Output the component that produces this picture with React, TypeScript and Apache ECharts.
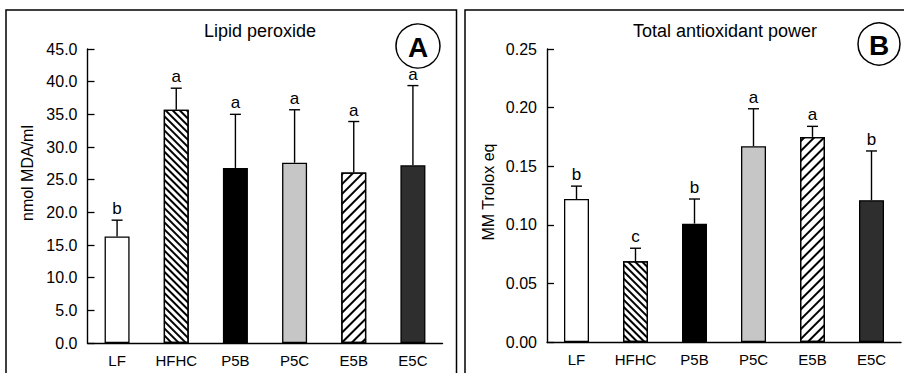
import React, { useEffect, useRef } from 'react';
import * as echarts from 'echarts';

const categories = ['LF', 'HFHC', 'P5B', 'P5C', 'E5B', 'E5C'];

const lipidMeans = [16.3, 35.7, 26.8, 27.6, 26.1, 27.2];
const lipidSD = [2.5, 3.3, 8.2, 8.1, 7.8, 12.2];
const lipidLetters = ['b', 'a', 'a', 'a', 'a', 'a'];

const taMeans = [0.122, 0.069, 0.101, 0.167, 0.175, 0.121];
const taSD = [0.011, 0.011, 0.021, 0.032, 0.009, 0.042];
const taLetters = ['b', 'c', 'b', 'a', 'a', 'b'];

const lipidAxis = { min: 0, max: 45, interval: 5, digits: 1 };
const taAxis = { min: 0, max: 0.25, interval: 0.05, digits: 2 };

const FONT = '"Liberation Sans", Arial, sans-serif';

const barStyles: any[] = [
  { color: '#ffffff' },
  {
    color: '#ffffff',
    decal: {
      symbol: 'rect', symbolSize: 1, color: '#000',
      dashArrayX: [1, 0], dashArrayY: [2, 3], rotation: Math.PI / 4,
    },
  },
  { color: '#000000' },
  { color: '#c6c6c6' },
  {
    color: '#ffffff',
    decal: {
      symbol: 'rect', symbolSize: 1, color: '#000',
      dashArrayX: [1, 0], dashArrayY: [1.6, 4.8], rotation: -Math.PI / 4,
    },
  },
  { color: '#2e2e2e' },
];

function barSeries(idx: number, means: number[]) {
  return {
    type: 'bar',
    xAxisIndex: idx,
    yAxisIndex: idx,
    barWidth: 25,
    data: means.map((v, i) => ({
      value: v,
      itemStyle: { borderColor: '#000', borderWidth: 1.3, ...barStyles[i] },
    })),
    z: 2,
  };
}

function errorSeries(idx: number, means: number[], sds: number[], letters: string[]) {
  return {
    type: 'custom',
    xAxisIndex: idx,
    yAxisIndex: idx,
    z: 5,
    data: means.map((m, i) => [i, m, m + sds[i]]),
    renderItem: (params: any, api: any) => {
      const i = api.value(0);
      const base = api.coord([i, api.value(1)]);
      const top = api.coord([i, api.value(2)]);
      return {
        type: 'group',
        children: [
          { type: 'line', shape: { x1: base[0], y1: base[1], x2: top[0], y2: top[1] }, style: { stroke: '#000', lineWidth: 1.4 } },
          { type: 'line', shape: { x1: top[0] - 5.5, y1: top[1], x2: top[0] + 5.5, y2: top[1] }, style: { stroke: '#000', lineWidth: 1.4 } },
          {
            type: 'text', x: top[0], y: top[1] - 3,
            style: { text: letters[params.dataIndex], align: 'center', verticalAlign: 'bottom', font: `17px ${FONT}`, fill: '#000' },
          },
        ],
      };
    },
  };
}

function xAxis(idx: number) {
  return {
    type: 'category', gridIndex: idx, data: categories,
    axisLine: { lineStyle: { color: '#000', width: 1.4 } },
    axisTick: { inside: true, length: 6, lineStyle: { color: '#000', width: 1.3 } },
    axisLabel: { color: '#000', fontSize: 15, fontFamily: FONT, margin: 10 },
  };
}

function yAxis(idx: number, ax: any) {
  return {
    type: 'value', gridIndex: idx, min: ax.min, max: ax.max, interval: ax.interval,
    axisLine: { show: true, lineStyle: { color: '#000', width: 1.4 } },
    axisTick: { show: true, inside: true, length: 7, lineStyle: { color: '#000', width: 1.3 } },
    axisLabel: { color: '#000', fontSize: 16, fontFamily: FONT, margin: 10, formatter: (v: number) => v.toFixed(ax.digits) },
    splitLine: { show: false },
  };
}

export default function App() {
  const ref = useRef<HTMLDivElement>(null);
  useEffect(() => {
    if (!ref.current) return;
    const chart = echarts.init(ref.current, undefined, { renderer: 'svg' });
    chart.setOption({
      animation: false,
      backgroundColor: '#fff',
      grid: [
        { left: 87.5, right: 904 - 442.5, top: 49, bottom: 373 - 343 },
        { left: 547, right: 904 - 901, top: 49, bottom: 373 - 342 },
      ],
      xAxis: [xAxis(0), xAxis(1)],
      yAxis: [yAxis(0, lipidAxis), yAxis(1, taAxis)],
      series: [
        barSeries(0, lipidMeans),
        errorSeries(0, lipidMeans, lipidSD, lipidLetters),
        barSeries(1, taMeans),
        errorSeries(1, taMeans, taSD, taLetters),
      ],
      graphic: [
        { type: 'rect', shape: { x: 6, y: 10, width: 450.5, height: 420 }, style: { fill: 'none', stroke: '#000', lineWidth: 1.5 }, silent: true },
        { type: 'rect', shape: { x: 465, y: 10, width: 460, height: 420 }, style: { fill: 'none', stroke: '#000', lineWidth: 1.5 }, silent: true },
        { type: 'text', x: 260, y: 31, style: { text: 'Lipid peroxide', align: 'center', verticalAlign: 'middle', font: `18px ${FONT}`, fill: '#000' } },
        { type: 'text', x: 725, y: 31, style: { text: 'Total antioxidant power', align: 'center', verticalAlign: 'middle', font: `18px ${FONT}`, fill: '#000' } },
        { type: 'text', x: 27, y: 173, rotation: Math.PI / 2, style: { text: 'nmol MDA/ml', align: 'center', verticalAlign: 'middle', font: `16px ${FONT}`, fill: '#000' } },
        { type: 'text', x: 488, y: 192, rotation: Math.PI / 2, style: { text: 'MM Trolox eq', align: 'center', verticalAlign: 'middle', font: `16px ${FONT}`, fill: '#000' } },
        { type: 'circle', shape: { cx: 418, cy: 46, r: 22 }, style: { fill: 'none', stroke: '#000', lineWidth: 1.5 } },
        { type: 'text', x: 418, y: 47, style: { text: 'A', align: 'center', verticalAlign: 'middle', font: `bold 28px ${FONT}`, fill: '#000' } },
        { type: 'circle', shape: { cx: 879, cy: 44, r: 21 }, style: { fill: 'none', stroke: '#000', lineWidth: 1.5 } },
        { type: 'text', x: 879, y: 45, style: { text: 'B', align: 'center', verticalAlign: 'middle', font: `bold 28px ${FONT}`, fill: '#000' } },
      ],
    });
    return () => chart.dispose();
  }, []);
  return <div ref={ref} style={{ position: 'fixed', left: 0, top: 0, width: 904, height: 373 }} />;
}
